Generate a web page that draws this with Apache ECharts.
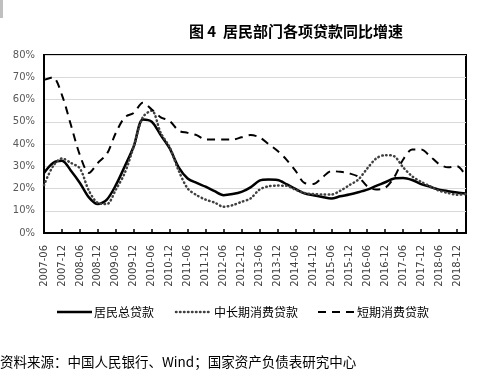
<!DOCTYPE html>
<html>
<head>
<meta charset="utf-8">
<script src="https://cdn.jsdelivr.net/npm/echarts@6/dist/echarts.min.js"></script>
<style>
html,body{margin:0;padding:0;background:#fff;}
#c{width:499px;height:378px;}
</style>
</head>
<body>
<div id="c"></div>
<script>
var categories = [
"2007-06","2007-09","2007-12","2008-03","2008-06","2008-09","2008-12","2009-03",
"2009-06","2009-09","2009-12","2010-03","2010-06","2010-09","2010-12","2011-03",
"2011-06","2011-09","2011-12","2012-03","2012-06","2012-09","2012-12","2013-03",
"2013-06","2013-09","2013-12","2014-03","2014-06","2014-09","2014-12","2015-03",
"2015-06","2015-09","2015-12","2016-03","2016-06","2016-09","2016-12","2017-03",
"2017-06","2017-09","2017-12","2018-03","2018-06","2018-09","2018-12","2019-03"];

var totalLoans = [27,31.5,32.5,28,22.5,16,13,15,21.5,30,39,51,
50,44,38,29.5,24.5,22.5,20.8,18.8,17,17.5,18.5,20.5,
23.5,24,23.8,22,19.8,17.8,17,16.2,15.5,16.5,17.3,18.3,
19.5,21.2,22.8,24.5,24.7,23.8,22,20.8,19.5,18.8,18.2,17.8];

var longTermConsumer = [21.5,30,33.5,31.5,29,19,13.5,13,19.5,27,39,52,
55,45,38.5,28,20,17,15,13.7,11.8,12.5,14,15.5,
19.5,21,21.3,21.2,19.5,18,17.5,17.3,17.3,19,21.5,24,
29,33.5,35,34.5,29.5,25.5,23,21,19,18,17.2,17.5];

var shortTermConsumer = [68.8,70,62,48.5,35,27,31.5,35.5,45,52,54,58.5,
55.5,52,50.3,46,45,44,42,42,42,42,43,44,
43,40,37,33,28,22.5,22,25,27.8,27.5,26.8,25.3,
21,19.5,20.3,25,33,37.5,37.5,34.5,31,29.5,30,25.5];

var seriesNames = ["居民总贷款","中长期消费贷款","短期消费贷款"];

var cjk = '"Noto Sans CJK SC", "Liberation Sans", sans-serif';
var styles = [
  {color:'#000', width:2.5, type:'solid'},
  {color:'#404040', width:2.5, type:[0.5,3.5], cap:'round'},
  {color:'#000', width:2, type:[8,6]}
];
var legendPos = [{x1:57,x2:92,tx:94},{x1:176,x2:210,tx:214},{x1:318,x2:355,tx:357}];
var legendY = 312;

var graphics = [
  {type:'rect', left:0, top:0, shape:{width:3,height:18}, style:{fill:'#bfbfbf'}},
  {type:'text', x:0, y:362, style:{text:'资料来源：中国人民银行、Wind；国家资产负债表研究中心', font:'13.5px ' + cjk, fill:'#000', verticalAlign:'middle'}}
];
seriesNames.forEach(function(n, i){
  var s = styles[i], p = legendPos[i];
  graphics.push({type:'line', shape:{x1:p.x1, y1:legendY, x2:p.x2, y2:legendY},
    style:{stroke:s.color, lineWidth:s.width, lineDash: s.type === 'solid' ? null : s.type, lineCap: s.cap || 'butt'}});
  graphics.push({type:'text', x:p.tx, y:legendY, style:{text:n, font:'12px ' + cjk, fill:'#000', verticalAlign:'middle'}});
});

var chart = echarts.init(document.getElementById('c'), null, {renderer:'canvas'});
chart.setOption({
  animation:false,
  backgroundColor:'#fff',
  title:{
    text:'图 4  居民部门各项贷款同比增速',
    left:291, top:19, textAlign:'center',
    textStyle:{fontFamily:cjk, fontSize:15, fontWeight:'bold', color:'#000'}
  },
  graphic:graphics,
  grid:{left:44, right:33, top:55, bottom:145, show:true, borderColor:'#000', borderWidth:2, containLabel:false},
  xAxis:{
    type:'category', data:categories, boundaryGap:false,
    axisLine:{lineStyle:{color:'#000', width:2}},
    axisTick:{show:true, inside:true, length:4, interval:1, lineStyle:{color:'#000', width:1.5}},
    axisLabel:{interval:1, rotate:90, margin:12, fontFamily:'"DejaVu Sans", sans-serif', fontSize:10, color:'#404040'},
    splitLine:{show:false}
  },
  yAxis:{
    type:'value', min:0, max:80, interval:10,
    axisLine:{show:true, lineStyle:{color:'#000', width:2}},
    axisTick:{show:false},
    axisLabel:{formatter:'{value}%', margin:9, fontFamily:'"DejaVu Sans", sans-serif', fontSize:10, color:'#595959'},
    splitLine:{lineStyle:{color:'#d9d9d9', width:1}}
  },
  series:[
    {name:seriesNames[0], type:'line', data:totalLoans, symbol:'none', smooth:0.3,
     lineStyle:styles[0], itemStyle:{color:styles[0].color}},
    {name:seriesNames[1], type:'line', data:longTermConsumer, symbol:'none', smooth:0.3,
     lineStyle:styles[1], itemStyle:{color:styles[1].color}},
    {name:seriesNames[2], type:'line', data:shortTermConsumer, symbol:'none', smooth:0.3,
     lineStyle:styles[2], itemStyle:{color:styles[2].color}}
  ]
});
</script>
</body>
</html>
